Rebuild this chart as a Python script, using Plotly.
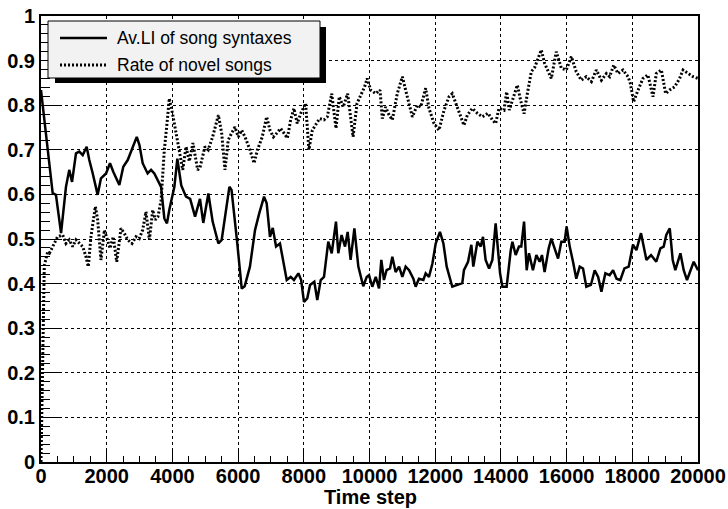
import plotly.graph_objects as go

# ---- data: average LI of song syntaxes ----
t_li = [0, 250, 355, 455, 610, 760, 860, 945, 1065, 1165, 1270, 1390, 1470, 1575, 1725, 1825,
        1980, 2100, 2200, 2385, 2505, 2640, 2740, 2810, 2915, 2995, 3095, 3245, 3350, 3450,
        3550, 3655, 3755, 3835, 3905, 4060, 4150, 4270, 4415, 4540, 4690, 4790, 4840, 4940,
        5095, 5225, 5400, 5500, 5600, 5735, 5800, 5905, 5975, 6110, 6200, 6360, 6445, 6515,
        6645, 6790, 6870, 6970, 7055, 7155, 7275, 7375, 7480, 7600, 7700, 7835, 7920, 8005,
        8105, 8190, 8320, 8410, 8515, 8615, 8745, 8850, 8980, 9050, 9150, 9255, 9335, 9425,
        9540, 9660, 9810, 9915, 9985, 10085, 10190, 10290, 10360, 10440, 10520, 10625, 10695,
        10795, 10900, 11000, 11100, 11205, 11335, 11405, 11505, 11640, 11710, 11810, 11915,
        12015, 12145, 12250, 12350, 12520, 12675, 12825, 12875, 13000, 13100, 13160, 13285,
        13385, 13455, 13535, 13640, 13740, 13840, 13890, 13975, 14045, 14175, 14300, 14350,
        14450, 14550, 14620, 14705, 14785, 14855, 14975, 15080, 15180, 15250, 15330, 15455,
        15535, 15615, 15740, 15840, 15940, 16000, 16095, 16195, 16295, 16400, 16500, 16600,
        16740, 16855, 16960, 17060, 17180, 17310, 17415, 17520, 17635, 17760, 17890, 18020,
        18125, 18265, 18430, 18570, 18730, 18855, 18955, 19035, 19140, 19230, 19310, 19465,
        19565, 19665, 19870, 20000]
li = [0.834, 0.670, 0.603, 0.599, 0.513, 0.617, 0.655, 0.628, 0.692, 0.696, 0.688, 0.707, 0.677,
      0.647, 0.599, 0.636, 0.647, 0.670, 0.651, 0.621, 0.662, 0.677, 0.696, 0.707, 0.729, 0.711,
      0.670, 0.647, 0.655, 0.647, 0.632, 0.617, 0.546, 0.535, 0.565, 0.617, 0.680, 0.620, 0.595,
      0.590, 0.550, 0.580, 0.590, 0.536, 0.602, 0.539, 0.490, 0.498, 0.550, 0.617, 0.610, 0.528,
      0.490, 0.389, 0.394, 0.438, 0.483, 0.520, 0.558, 0.595, 0.580, 0.505, 0.525, 0.483, 0.490,
      0.453, 0.408, 0.415, 0.408, 0.423, 0.408, 0.359, 0.367, 0.397, 0.404, 0.363, 0.408, 0.415,
      0.494, 0.468, 0.539, 0.468, 0.509, 0.483, 0.516, 0.453, 0.524, 0.438, 0.394, 0.415, 0.419,
      0.393, 0.415, 0.389, 0.453, 0.408, 0.430, 0.434, 0.460, 0.426, 0.438, 0.415, 0.438, 0.430,
      0.411, 0.393, 0.411, 0.408, 0.423, 0.415, 0.445, 0.490, 0.516, 0.490, 0.438, 0.393, 0.397,
      0.401, 0.430, 0.449, 0.487, 0.438, 0.494, 0.483, 0.505, 0.453, 0.434, 0.453, 0.535, 0.498,
      0.423, 0.393, 0.393, 0.475, 0.494, 0.464, 0.483, 0.483, 0.539, 0.430, 0.468, 0.430, 0.464,
      0.449, 0.464, 0.426, 0.479, 0.501, 0.483, 0.456, 0.494, 0.494, 0.528, 0.483, 0.449, 0.411,
      0.438, 0.434, 0.393, 0.397, 0.430, 0.415, 0.382, 0.423, 0.419, 0.430, 0.411, 0.408, 0.434,
      0.438, 0.487, 0.475, 0.513, 0.453, 0.464, 0.449, 0.479, 0.483, 0.509, 0.524, 0.453, 0.430,
      0.468, 0.430, 0.408, 0.449, 0.430]

# ---- data: rate of novel songs ----
t_novel = [0, 100, 200, 255, 405, 505, 660, 760, 860, 965, 1065, 1165, 1270, 1370, 1440, 1520,
           1655, 1725, 1825, 1930, 2030, 2100, 2200, 2305, 2435, 2535, 2640, 2770, 2890, 2990,
           3095, 3195, 3300, 3400, 3480, 3560, 3655, 3755, 3855, 3905, 4005, 4110, 4210, 4315,
           4415, 4515, 4625, 4770, 4840, 4990, 5090, 5225, 5400, 5500, 5600, 5700, 5800, 5905,
           6005, 6110, 6210, 6360, 6485, 6590, 6735, 6870, 6970, 7075, 7175, 7295, 7400, 7500,
           7600, 7700, 7800, 7905, 8055, 8155, 8260, 8380, 8480, 8615, 8715, 8850, 8980, 9080,
           9200, 9335, 9500, 9620, 9770, 9850, 9930, 10035, 10190, 10320, 10390, 10490, 10595,
           10695, 10845, 11000, 11150, 11305, 11455, 11560, 11710, 11810, 11965, 12115, 12270,
           12420, 12520, 12675, 12875, 12980, 13130, 13285, 13435, 13610, 13740, 13840, 13940,
           14095, 14175, 14255, 14380, 14500, 14600, 14705, 14805, 14925, 15030, 15080, 15230,
           15330, 15535, 15685, 15840, 15990, 16145, 16295, 16450, 16600, 16755, 16905, 17060,
           17210, 17310, 17435, 17565, 17715, 17870, 17940, 18040, 18175, 18325, 18475, 18630,
           18730, 18885, 19015, 19135, 19290, 19440, 19545, 19695, 19850, 20000]
novel = [0.0, 0.44, 0.47, 0.468, 0.490, 0.505, 0.509, 0.490, 0.498, 0.483, 0.498, 0.490, 0.483,
         0.460, 0.438, 0.505, 0.573, 0.543, 0.453, 0.520, 0.498, 0.479, 0.505, 0.449, 0.524, 0.513,
         0.498, 0.490, 0.505, 0.501, 0.520, 0.561, 0.498, 0.565, 0.543, 0.550, 0.587, 0.700, 0.774,
         0.815, 0.781, 0.737, 0.692, 0.655, 0.707, 0.674, 0.715, 0.655, 0.660, 0.707, 0.700, 0.729,
         0.778, 0.737, 0.655, 0.722, 0.737, 0.751, 0.729, 0.744, 0.729, 0.700, 0.670, 0.700, 0.729,
         0.774, 0.744, 0.729, 0.737, 0.748, 0.737, 0.726, 0.767, 0.793, 0.759, 0.781, 0.804, 0.700,
         0.744, 0.759, 0.770, 0.767, 0.774, 0.826, 0.748, 0.819, 0.796, 0.826, 0.729, 0.804, 0.830,
         0.841, 0.860, 0.834, 0.826, 0.834, 0.770, 0.796, 0.778, 0.767, 0.826, 0.864, 0.819, 0.774,
         0.800, 0.796, 0.838, 0.793, 0.759, 0.744, 0.789, 0.819, 0.826, 0.796, 0.755, 0.778, 0.793,
         0.782, 0.774, 0.782, 0.767, 0.759, 0.793, 0.789, 0.830, 0.789, 0.819, 0.845, 0.811, 0.781,
         0.826, 0.875, 0.885, 0.894, 0.924, 0.894, 0.860, 0.920, 0.883, 0.879, 0.909, 0.875, 0.856,
         0.864, 0.853, 0.879, 0.856, 0.871, 0.864, 0.890, 0.871, 0.879, 0.864, 0.849, 0.808, 0.834,
         0.860, 0.868, 0.819, 0.871, 0.879, 0.826, 0.834, 0.841, 0.860, 0.879, 0.871, 0.864, 0.860]

# ---- tick labels and texts ----
x_ticks = [0, 2000, 4000, 6000, 8000, 10000, 12000, 14000, 16000, 18000, 20000]
x_tick_labels = ["0", "2000", "4000", "6000", "8000", "10000", "12000", "14000", "16000",
                 "18000", "20000"]
y_ticks = [0, 0.1, 0.2, 0.3, 0.4, 0.5, 0.6, 0.7, 0.8, 0.9, 1.0]
y_tick_labels = ["0", "0.1", "0.2", "0.3", "0.4", "0.5", "0.6", "0.7", "0.8", "0.9", "1"]
legend_labels = ["Av.LI of song syntaxes", "Rate of novel songs"]
x_title = "Time step"

W, H = 728, 509
L, R, T, B = 41, 30, 16, 47
PW, PH = W - L - R, H - T - B


def px(x):
    return (x - L) / PW


def py(y):
    return (H - B - y) / PH


DOT = "2px,2px"

fig = go.Figure()
fig.add_trace(go.Scatter(x=t_li, y=li, mode="lines", name=legend_labels[0],
                         line=dict(color="black", width=2.5), showlegend=False))
fig.add_trace(go.Scatter(x=t_novel, y=novel, mode="lines", name=legend_labels[1],
                         line=dict(color="black", width=3, dash=DOT), showlegend=False))

tickfont = dict(family="Liberation Sans", size=20, color="black")

fig.update_xaxes(range=[0, 20000], tickmode="array", tickvals=x_ticks,
                 ticktext=["<b>%s</b>" % s for s in x_tick_labels],
                 ticks="inside", ticklen=11, tickwidth=1, tickcolor="black",
                 showline=True, linewidth=2, linecolor="black", mirror=True,
                 showgrid=True, gridcolor="black", griddash="dot", gridwidth=1,
                 zeroline=False, tickfont=tickfont, ticklabelstandoff=-5,
                 minor=dict(dtick=500, tick0=0, ticks="inside", ticklen=6, tickcolor="black",
                            showgrid=False))
fig.update_yaxes(range=[0, 1], tickmode="array", tickvals=y_ticks,
                 ticktext=["<b>%s</b>" % s for s in y_tick_labels],
                 ticks="inside", ticklen=19, tickwidth=1, tickcolor="black",
                 showline=True, linewidth=2, linecolor="black", mirror=True,
                 showgrid=True, gridcolor="black", griddash="dot", gridwidth=1,
                 zeroline=False, tickfont=tickfont,
                 minor=dict(dtick=0.02, tick0=0, ticks="inside", ticklen=9, tickcolor="black",
                            showgrid=False))

# legend box with shadow (drawn in pixel-equivalent paper coordinates)
shapes = [
    dict(type="rect", xref="paper", yref="paper", x0=px(55), x1=px(326), y0=py(83), y1=py(27),
         fillcolor="black", line=dict(width=0), layer="above"),
    dict(type="rect", xref="paper", yref="paper", x0=px(48), x1=px(320), y0=py(78), y1=py(21),
         fillcolor="#f2f2f2", line=dict(color="black", width=1), layer="above"),
    dict(type="line", xref="paper", yref="paper", x0=px(60), x1=px(107), y0=py(38), y1=py(38),
         line=dict(color="black", width=2.5), layer="above"),
    dict(type="line", xref="paper", yref="paper", x0=px(60), x1=px(107), y0=py(65), y1=py(65),
         line=dict(color="black", width=3, dash=DOT), layer="above"),
]
annotations = [
    dict(text=legend_labels[0], xref="paper", yref="paper", x=px(115), y=py(38),
         xanchor="left", yanchor="middle", showarrow=False,
         font=dict(family="Liberation Sans", size=17.5, color="black")),
    dict(text=legend_labels[1], xref="paper", yref="paper", x=px(115), y=py(65),
         xanchor="left", yanchor="middle", showarrow=False,
         font=dict(family="Liberation Sans", size=17.5, color="black")),
    dict(text="<b>%s</b>" % x_title, xref="paper", yref="paper", x=px(370), y=py(497),
         xanchor="center", yanchor="middle", showarrow=False,
         font=dict(family="Liberation Sans", size=20, color="black")),
]

fig.update_layout(width=W, height=H, margin=dict(l=L, r=R, t=T, b=B, autoexpand=False),
                  paper_bgcolor="white", plot_bgcolor="white", shapes=shapes,
                  annotations=annotations, showlegend=False)

fig.write_html("out.html")
